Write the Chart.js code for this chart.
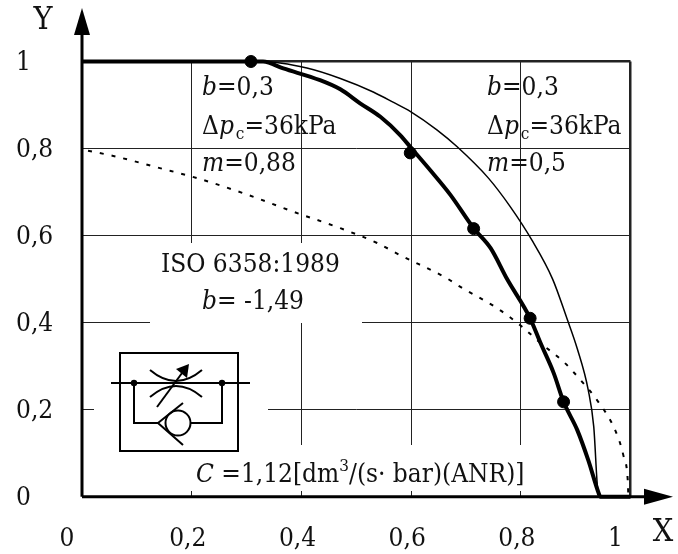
<!DOCTYPE html>
<html>
<head>
<meta charset="utf-8">
<style>body{margin:0;background:#fff}</style>
<script src="https://cdn.jsdelivr.net/npm/chart.js@4"></script>
</head>
<body>
<canvas id="myChart" width="678" height="554"></canvas>
<script>
const xTickLabels = ['0', '0,2', '0,4', '0,6', '0,8', '1']
const yTickLabels = ['0', '0,2', '0,4', '0,6', '0,8', '1']

const thickX = [0, 0.33, 0.367, 0.434, 0.471, 0.507, 0.544, 0.58, 0.601, 0.635, 0.672, 0.714, 0.745, 0.775, 0.817, 0.836, 0.86, 0.878, 0.903, 0.923, 0.942, 0.945, 1]
const thickY = [1, 1, 0.984, 0.957, 0.936, 0.904, 0.873, 0.831, 0.8, 0.75, 0.693, 0.617, 0.571, 0.5, 0.41, 0.353, 0.284, 0.218, 0.153, 0.084, 0.008, 0, 0]

const thinX = [0, 0.33, 0.41, 0.471, 0.531, 0.568, 0.599, 0.647, 0.684, 0.741, 0.781, 0.82, 0.858, 0.884, 0.903, 0.923, 0.933, 0.941, 0.945]
const thinY = [1, 1, 0.985, 0.961, 0.93, 0.906, 0.885, 0.843, 0.804, 0.732, 0.666, 0.59, 0.5, 0.41, 0.34, 0.245, 0.161, 0.008, 0]

const dotX = [0.011, 0.057, 0.142, 0.21, 0.297, 0.385, 0.471, 0.538, 0.58, 0.665, 0.69, 0.757, 0.799, 0.836, 0.878, 0.909, 0.939, 0.973, 0.987, 0.995, 0.996, 1]
const dotY = [0.795, 0.783, 0.755, 0.732, 0.696, 0.655, 0.617, 0.583, 0.555, 0.502, 0.482, 0.433, 0.394, 0.353, 0.31, 0.268, 0.222, 0.15, 0.095, 0.038, 0.008, 0]

const markX = [0.308, 0.5985, 0.714, 0.817, 0.878]
const markY = [1, 0.79, 0.616, 0.41, 0.218]

const FONT = '"DejaVu Serif Condensed", "DejaVu Serif", serif'
const SIZE = 26

function pts(xs, ys) {
    return xs.map((x, i) => ({ x: x, y: ys[i] }))
}

// mixed text: italic letters, sub and superscripts
function runs(c, x, y, parts) {
    c.textBaseline = 'alphabetic'
    c.textAlign = 'left'
    c.fillStyle = '#111'
    parts.forEach(p => {
        let size = p.sub || p.sup ? 17 : SIZE
        c.font = (p.i ? 'italic ' : '') + size + 'px ' + FONT
        let dy = p.sub ? 5 : p.sup ? -11 : 0
        c.fillText(p.t, x, y + dy)
        x += c.measureText(p.t).width + (p.gap || 0)
    })
}

function line(c, x1, y1, x2, y2) {
    c.beginPath()
    c.moveTo(x1, y1)
    c.lineTo(x2, y2)
    c.stroke()
}

function tri(c, a, b, d, e, f, g) {
    c.beginPath()
    c.moveTo(a, b)
    c.lineTo(d, e)
    c.lineTo(f, g)
    c.closePath()
    c.fill()
}

function drawSymbol(c) {
    c.strokeStyle = '#000'
    c.fillStyle = '#000'
    c.lineWidth = 2
    c.strokeRect(120, 353, 118, 98)
    line(c, 111, 383, 250, 383)
    c.beginPath(); c.arc(134, 383, 3.2, 0, 7); c.fill()
    c.beginPath(); c.arc(222, 383, 3.2, 0, 7); c.fill()
    c.beginPath()
    c.moveTo(134, 383); c.lineTo(134, 423); c.lineTo(158, 423)
    c.moveTo(190, 423); c.lineTo(222, 423); c.lineTo(222, 383)
    c.moveTo(183, 403); c.lineTo(158, 423); c.lineTo(183, 445)
    c.stroke()
    c.beginPath(); c.arc(178, 423, 12.5, 0, 7); c.stroke()
    c.beginPath()
    c.moveTo(150, 370); c.quadraticCurveTo(176, 392, 202, 370)
    c.moveTo(150, 397); c.quadraticCurveTo(176, 375, 202, 397)
    c.stroke()
    line(c, 157, 407, 185, 369)
    tri(c, 189, 364, 176, 369, 187, 378)
}

const paper = {
    id: 'paper',
    beforeDatasetsDraw(chart) {
        let c = chart.ctx
        c.save()
        c.fillStyle = '#fff'
        c.fillRect(150, 243, 212, 80)
        c.fillRect(94, 323, 174, 168)
        c.fillRect(94, 445, 442, 46)
        c.restore()
    },
    afterDatasetsDraw(chart) {
        let c = chart.ctx
        let a = chart.chartArea
        c.save()
        c.strokeStyle = '#000'
        c.fillStyle = '#000'
        c.lineWidth = 3
        line(c, a.left, a.bottom, 650, a.bottom)
        line(c, a.left, a.bottom, a.left, 30)
        tri(c, 673, a.bottom, 644, a.bottom - 8, 644, a.bottom + 8)
        tri(c, a.left, 8, a.left - 8, 35, a.left + 8, 35)
        drawSymbol(c)

        c.font = '32px ' + FONT
        c.fillStyle = '#111'
        c.textAlign = 'center'
        c.textBaseline = 'middle'
        c.fillText('Y', 43, 21)
        c.fillText('X', 663, 533)

        runs(c, 202, 95, [{ t: 'b', i: 1 }, { t: '=0,3' }])
        runs(c, 202, 134, [{ t: 'Δ' }, { t: 'p', i: 1, gap: 2 }, { t: 'c', sub: 1 }, { t: '=36kPa' }])
        runs(c, 202, 171, [{ t: 'm', i: 1 }, { t: '=0,88' }])
        runs(c, 487, 95, [{ t: 'b', i: 1 }, { t: '=0,3' }])
        runs(c, 487, 134, [{ t: 'Δ' }, { t: 'p', i: 1, gap: 2 }, { t: 'c', sub: 1 }, { t: '=36kPa' }])
        runs(c, 487, 171, [{ t: 'm', i: 1 }, { t: '=0,5' }])
        runs(c, 161, 272, [{ t: 'ISO 6358:1989' }])
        runs(c, 202, 309, [{ t: 'b', i: 1 }, { t: '= -1,49' }])
        runs(c, 196, 482, [{ t: 'C', i: 1 }, { t: ' =1,12[dm' }, { t: '3', sup: 1 }, { t: '/(s· bar)(ANR)]' }])
        c.restore()
    }
}

const data = {
    datasets: [
        { data: pts(thinX, thinY), borderColor: '#000', borderWidth: 1.5, pointRadius: 0, showLine: true, clip: false, cubicInterpolationMode: 'monotone' },
        { data: pts(thickX, thickY), borderColor: '#000', borderWidth: 4, pointRadius: 0, showLine: true, clip: false, cubicInterpolationMode: 'monotone' },
        { data: pts(dotX, dotY), borderColor: '#000', borderWidth: 2, borderDash: [4, 8], pointRadius: 0, showLine: true, clip: false, cubicInterpolationMode: 'monotone' },
        { data: pts(markX, markY), backgroundColor: '#000', borderColor: '#000', pointRadius: 6, showLine: false, clip: false }
    ]
}

const config = {
    type: 'scatter',
    data: data,
    options: {
        responsive: false,
        animation: false,
        layout: { padding: { left: 16, top: 61.5, right: 47.5, bottom: 0 } },
        plugins: { legend: { display: false }, tooltip: { enabled: false } },
        scales: {
            x: {
                type: 'linear',
                min: 0,
                max: 1,
                afterFit(s) { s.height = 57.3 },
                border: { display: false },
                grid: {
                    color: '#222',
                    drawTicks: false,
                    lineWidth: ctx => ctx.tick.value >= 1 ? 2.5 : 1
                },
                ticks: {
                    stepSize: 0.2,
                    padding: 27,
                    align: 'start',
                    labelOffset: -22.5,
                    maxRotation: 0,
                    color: '#111',
                    font: { family: FONT, size: SIZE },
                    callback: (v, i) => xTickLabels[i]
                }
            },
            y: {
                type: 'linear',
                min: 0,
                max: 1,
                afterFit(s) { s.width = 66 },
                border: { display: false },
                grid: {
                    color: '#222',
                    drawTicks: false,
                    lineWidth: ctx => ctx.tick.value >= 1 ? 2.5 : 1
                },
                ticks: {
                    stepSize: 0.2,
                    crossAlign: 'far',
                    labelOffset: 2,
                    color: '#111',
                    font: { family: FONT, size: SIZE },
                    callback: (v, i) => yTickLabels[i]
                }
            }
        }
    },
    plugins: [paper]
}

const myChart = new Chart(document.getElementById('myChart'), config)
</script>
</body>
</html>
